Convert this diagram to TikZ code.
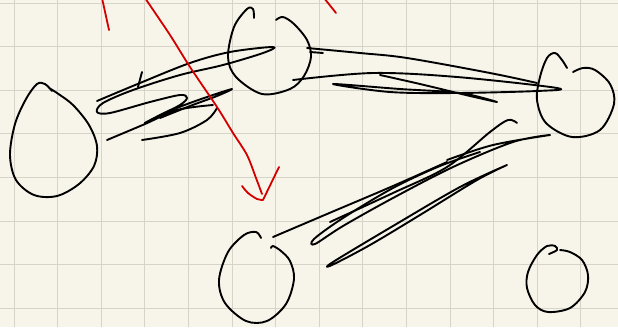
\documentclass[tikz,border=0pt]{standalone}
\usetikzlibrary{positioning}

\definecolor{paper}{HTML}{F7F5EA}
\definecolor{gridline}{HTML}{D6D4C8}
\definecolor{redink}{HTML}{D40000}

\begin{document}
\begin{tikzpicture}[x=1pt, y=-1pt,
		ink/.style={line width=1.9pt, line cap=round, line join=round, draw=black},
		redpen/.style={line width=1.8pt, line cap=round, line join=round, draw=redink},
		blob/.style={circle, draw=none, inner sep=0pt},
		scribble/.style={smooth, tension=0.55}
		]
	\useasboundingbox (0,0) rectangle (618,327);
	\fill[paper] (0,0) rectangle (618,327);
	
	% grid paper
	\foreach \i in {0,...,13}
		\draw[gridline, line width=0.9pt] ({14+43.6*\i},0) -- ({14+43.6*\i},327);
	\foreach \j in {0,...,7}
		\draw[gridline, line width=0.9pt] (0,{3+43.6*\j}) -- (618,{3+43.6*\j});
	
	% the five hand drawn circles
	\node (egg) [blob, minimum size=88pt] at (54,140) {};
	\node (top) [blob, minimum size=84pt] at (270,52) {};
	\node (right) [blob, minimum size=78pt] at (576,96) {};
	\node (low) [blob, minimum size=78pt] at (257,278) {};
	\node (small) [blob, minimum size=60pt] at (557,279) {};
	
	\draw[ink] plot[scribble] coordinates {(52,91) (45,84) (37,84) (26,99) (15,124) (10,155) (16,180) (34,195) (57,196) (79,184) (94,166) (97,146) (89,125) (73,105) (57,93) (49,88)};
	\draw[ink] plot[scribble] coordinates {(254,18) (253,9) (247,9) (234,27) (228,57) (236,77) (262,94) (290,89) (304,76) (311,57) (307,40) (294,24) (283,17) (276,20)};
	\draw[ink] plot[scribble] coordinates {(567,68) (562,60) (555,53) (547,58) (540,77) (537,100) (546,123) (572,137) (600,130) (614,104) (610,84) (595,70) (583,68) (573,72)};
	\draw[ink] plot[scribble] coordinates {(261,238) (256,232) (244,235) (228,252) (219,280) (225,303) (246,321) (267,321) (286,304) (294,279) (290,261) (281,251) (273,246) (271,248)};
	\draw[ink] plot[scribble] coordinates {(549,254) (557,250) (555,246) (547,246) (537,255) (528,272) (527,288) (535,305) (548,312) (570,308) (585,292) (588,275) (582,260) (570,252) (560,250)};
	
	% scribbles between egg and top
	\draw[ink] plot[scribble] coordinates {(97,101) (140,83) (190,63) (230,52) (273,47) (263,53) (223,65) (180,75) (133,90) (103,103) (97,112) (110,113) (150,102) (180,95) (187,98) (180,105) (160,115) (145,123) (177,108) (207,97) (232,89) (217,96) (190,106) (160,118)};
	\draw[ink] plot[scribble] coordinates {(107,140) (145,124) (177,110) (213,105)};
	\draw[ink] plot[scribble] coordinates {(142,140) (180,133) (207,120) (217,108)};
	\draw[ink] (142,72) -- (138,87);
	
	% scribbles between top and right
	\draw[ink] plot[scribble] coordinates {(307,48) (360,53) (407,58) (490,73) (537,83)};
	\draw[ink] (310,52) -- (323,53);
	\draw[ink] plot[scribble] coordinates {(293,80) (373,73) (457,77) (557,88) (537,91) (457,93) (390,92) (333,84) (400,89) (460,93) (497,102) (470,96) (420,84) (380,75)};
	
	% scribbles between low and right
	\draw[ink] plot[scribble] coordinates {(330,222) (393,193) (447,167) (490,132) (508,120) (517,123)};
	\draw[ink] plot[scribble] coordinates {(273,237) (327,214) (393,186) (447,162)};
	\draw[ink] plot[scribble] coordinates {(447,160) (493,145) (550,135) (513,142) (453,167) (393,198) (343,226) (315,244) (314,239) (343,218) (393,188) (440,166) (480,152)};
	\draw[ink] plot[scribble] coordinates {(507,165) (460,187) (393,226) (333,262) (332,265) (370,245) (420,215) (477,180) (507,165)};
	
	% red pen
	\draw[redpen] plot[smooth] coordinates {(145,-2) (170,35) (190,67) (217,107) (233,133) (247,155) (256,178) (262,194)};
	\draw[redpen] plot[smooth] coordinates {(242,186) (248,193) (257,199) (263,200)} -- (279,167);
	\draw[redpen] (102,-2) -- (109,30);
	\draw[redpen] (324,-2) -- (336,13);
\end{tikzpicture}
\end{document}
